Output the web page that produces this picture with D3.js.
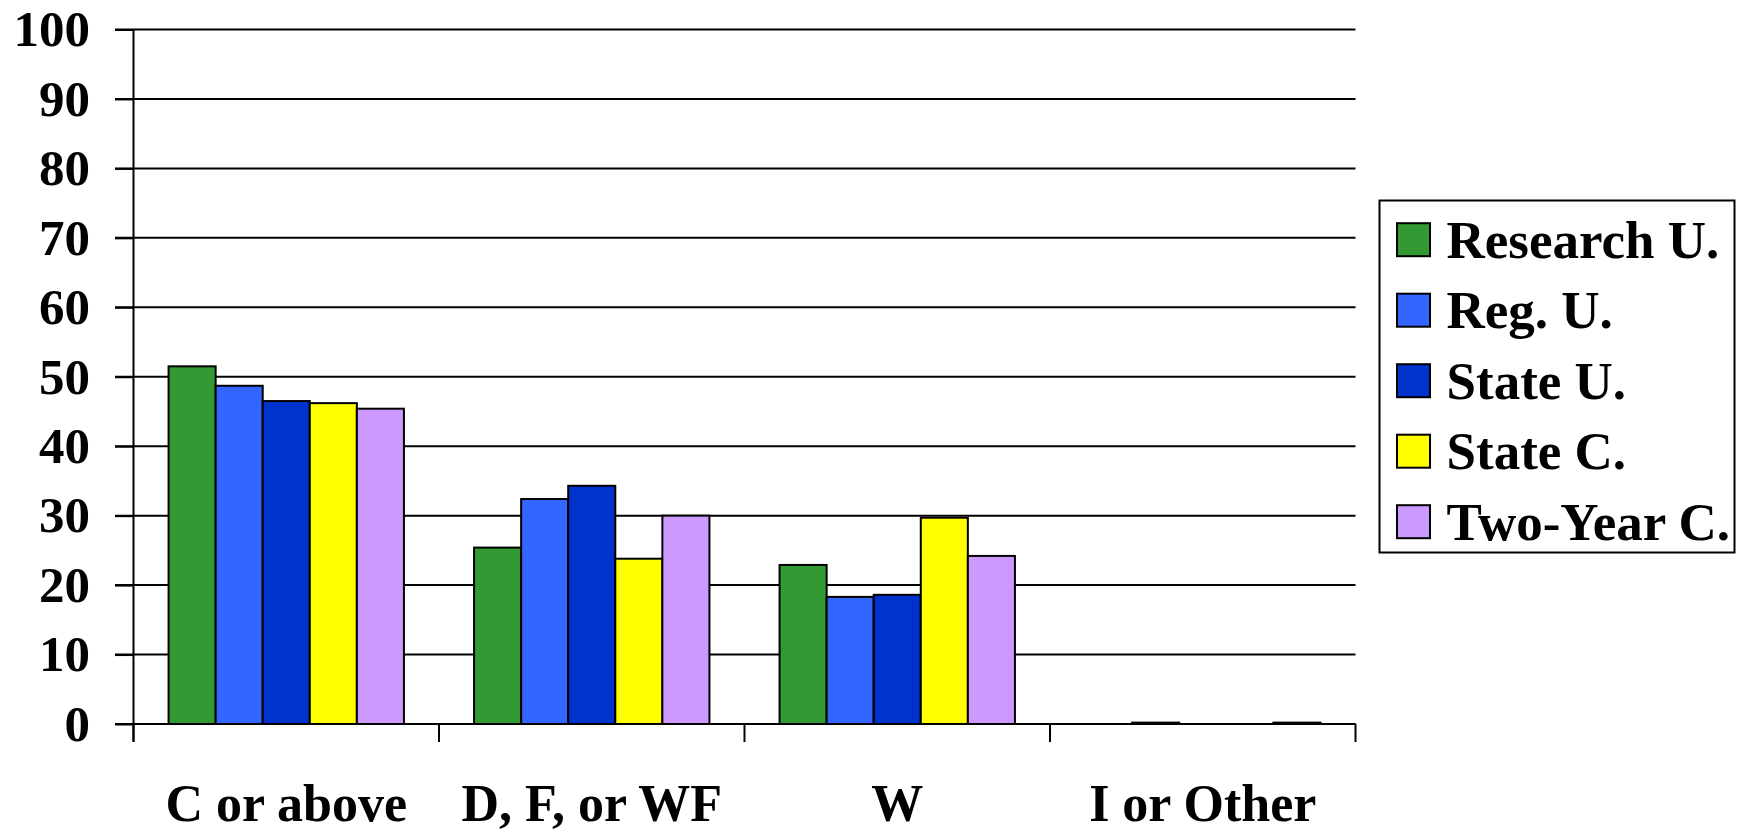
<!DOCTYPE html>
<html>
<head>
<meta charset="utf-8">
<script src="https://cdn.jsdelivr.net/npm/d3@7"></script>
<style>
  html, body { margin: 0; padding: 0; background: #fff; }
  svg { display: block; }
  text { font-family: "Liberation Serif", "Times New Roman", serif; font-weight: bold; fill: #000; }
</style>
</head>
<body>
<svg id="chart" width="1737" height="829"></svg>
<script>
// Grade outcome categories along the x axis
const categories = ["C or above", "D, F, or WF", "W", "I or Other"];

// Institution types (one bar per type in each category)
const seriesNames = ["Research U.", "Reg. U.", "State U.", "State C.", "Two-Year C."];
const seriesColors = ["#339933", "#3366FF", "#0033CC", "#FFFF00", "#CC99FF"];

// Percentages per institution type, in category order
const researchU = [51.5, 25.4, 22.9, 0];
const regU      = [48.7, 32.4, 18.3, 0.2];
const stateU    = [46.5, 34.3, 18.6, 0];
const stateC    = [46.2, 23.8, 29.7, 0];
const twoYearC  = [45.4, 30.0, 24.2, 0.2];

const yTicks = [0, 10, 20, 30, 40, 50, 60, 70, 80, 90, 100];

const seriesValues = [researchU, regU, stateU, stateC, twoYearC];

const svg = d3.select("#chart");

const plot = { left: 133.5, top: 29.5, right: 1355.5, bottom: 724 };

const y = d3.scaleLinear().domain([0, 100]).range([plot.bottom, plot.top]);
const x0 = d3.scaleBand().domain(categories).range([plot.left, plot.right]).padding(0);
const x1 = d3.scaleBand().domain(seriesNames).range([0, x0.bandwidth()])
  .paddingInner(0).paddingOuter(0.745);
const color = d3.scaleOrdinal().domain(seriesNames).range(seriesColors);

// Horizontal gridlines, extending slightly left of the axis as tick marks
svg.append("g")
  .selectAll("line")
  .data(yTicks)
  .join("line")
  .attr("x1", plot.left - 18.5)
  .attr("x2", plot.right)
  .attr("y1", d => y(d))
  .attr("y2", d => y(d))
  .attr("stroke", "#000")
  .attr("stroke-width", 2);

// Y axis with labels
const yAxis = svg.append("g")
  .attr("transform", `translate(${plot.left},0)`)
  .call(d3.axisLeft(y).tickValues(yTicks).tickSize(18.5).tickPadding(25).tickFormat(d3.format("d")));
yAxis.select(".domain").remove();
yAxis.selectAll("line").attr("stroke", "#000").attr("stroke-width", 2);
yAxis.selectAll("text")
  .style("font-family", '"Liberation Serif", "Times New Roman", serif')
  .style("font-weight", "bold")
  .style("font-size", "51px")
  .attr("fill", "#000");

// Vertical axis line
svg.append("line")
  .attr("x1", plot.left).attr("x2", plot.left)
  .attr("y1", plot.top).attr("y2", plot.bottom + 18)
  .attr("stroke", "#000").attr("stroke-width", 2);

// Bars
const groups = svg.append("g")
  .selectAll("g")
  .data(categories)
  .join("g")
  .attr("transform", d => `translate(${x0(d)},0)`);

groups.selectAll("rect")
  .data((c, ci) => seriesNames.map((s, si) => ({ series: s, value: seriesValues[si][ci] })))
  .join("rect")
  .filter(d => d.value > 0)
  .attr("x", d => x1(d.series))
  .attr("width", x1.bandwidth())
  .attr("y", d => y(d.value))
  .attr("height", d => y(0) - y(d.value))
  .attr("fill", d => color(d.series))
  .attr("stroke", "#000")
  .attr("stroke-width", 2);

// X axis: baseline, category boundary ticks and labels
const xAxis = svg.append("g")
  .attr("transform", `translate(0,${plot.bottom})`);
xAxis.append("line")
  .attr("x1", plot.left - 18.5).attr("x2", plot.right)
  .attr("y1", 0).attr("y2", 0)
  .attr("stroke", "#000").attr("stroke-width", 2);
xAxis.selectAll("line.sep")
  .data(categories.map(c => x0(c)).concat([plot.right]))
  .join("line")
  .attr("class", "sep")
  .attr("x1", d => d).attr("x2", d => d)
  .attr("y1", 0).attr("y2", 18)
  .attr("stroke", "#000").attr("stroke-width", 2);
xAxis.selectAll("text")
  .data(categories)
  .join("text")
  .attr("x", d => x0(d) + x0.bandwidth() / 2)
  .attr("y", 97)
  .attr("text-anchor", "middle")
  .style("font-size", "52px")
  .text(d => d);

// Legend
const legend = svg.append("g");
legend.append("rect")
  .attr("x", 1379.5).attr("y", 200.5)
  .attr("width", 355).attr("height", 352)
  .attr("fill", "#fff").attr("stroke", "#000").attr("stroke-width", 2);
const items = legend.selectAll("g.item")
  .data(seriesNames)
  .join("g")
  .attr("class", "item")
  .attr("transform", (d, i) => `translate(1397,${239.7 + i * 70.5})`);
items.append("rect")
  .attr("x", 0).attr("y", -16.5)
  .attr("width", 33).attr("height", 33)
  .attr("fill", d => color(d))
  .attr("stroke", "#000").attr("stroke-width", 2);
items.append("text")
  .attr("x", 49.5).attr("y", 0).attr("dy", "0.34em")
  .style("font-size", "53px")
  .text(d => d);
</script>
</body>
</html>
